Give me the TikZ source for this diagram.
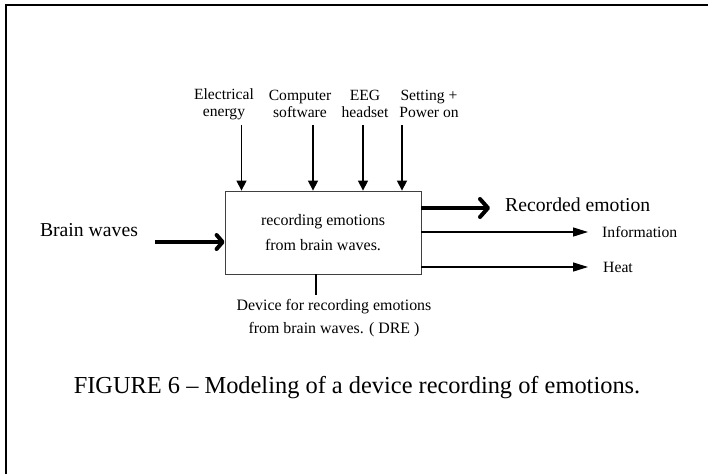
\documentclass[tikz,border=0pt]{standalone}
\usepackage{fontspec}
\setmainfont{Liberation Serif}
\usetikzlibrary{arrows.meta, positioning}

\begin{document}
\begin{tikzpicture}[x=1pt, y=-1pt,
   process/.style={draw=black!75, line width=0.8pt, minimum width=196pt, minimum height=83pt,
                   align=center, font=\fontsize{16}{25}\selectfont},
   ctrl/.style={align=center, font=\fontsize{15.6}{17}\selectfont, inner sep=0pt},
   flow/.style={line width=1.3pt, -{Triangle[length=10pt, width=10pt]}},
   outflow/.style={line width=1.3pt, -{Triangle[length=15pt, width=9pt]}},
   bigflow/.style={line width=4pt, -{Straight Barb[length=6pt, width=14pt, line cap=round, line join=round]}}]
   \useasboundingbox (0,0) rectangle (708,474);
   \draw[line width=2pt] (5.5,474) -- (5.5,5) -- (708,5);

   \node[process] (box) at (323,232.5) {recording emotions\\from brain waves.};

   % controls
   \node[ctrl] (elec) at (224,104) {Electrical\\energy};
   \node[ctrl] (soft) at (300,104) {Computer\\software};
   \node[ctrl] (eeg)  at (365,104) {EEG\\headset};
   \node[ctrl] (set)  at (429,104) {Setting +\\Power on};
   \coordinate (c1) at (241.5,125);
   \coordinate (c2) at (313,125);
   \coordinate (c3) at (363,125);
   \coordinate (c4) at (402,125);
   \draw[flow] (c1) -- (c1 |- box.north);
   \draw[flow] (c2) -- (c2 |- box.north);
   \draw[flow] (c3) -- (c3 |- box.north);
   \draw[flow] (c4) -- (c4 |- box.north);

   % input
   \node[font=\fontsize{19.7}{22}\selectfont] (brain) at (89,230) {Brain waves};
   \coordinate (bw) at (155,242);
   \draw[bigflow] (bw) -- (box.west |- bw);

   % outputs
   \node[font=\fontsize{19.7}{22}\selectfont, anchor=west, inner sep=0pt] (rec) at (505,205) {Recorded emotion};
   \coordinate (re) at (420,208);
   \draw[line width=4pt, -{Straight Barb[length=8pt, width=18pt, line cap=round, line join=round]}]
      (box.east |- re) -- (490,208);
   \node[font=\fontsize{15.7}{17}\selectfont, anchor=west, inner sep=0pt] (inf) at (602,232) {Information};
   \node[font=\fontsize{15.7}{17}\selectfont, anchor=west, inner sep=0pt] (heat) at (603,267) {Heat};
   \draw[outflow, shorten >=14pt] (box.east |- inf.west) -- (inf.west);
   \draw[outflow, shorten >=15pt] (box.east |- heat.west) -- (heat.west);

   % mechanism
   \node[align=center, font=\fontsize{15.9}{23}\selectfont] (dre) at (334,318.5)
      {Device for recording emotions\\from brain waves. ( DRE )};
   \draw[line width=1.3pt] (box.south -| 316,0) -- (316,295);

   \node[font=\fontsize{24.4}{28}\selectfont] (cap) at (357,388)
      {FIGURE 6 -- Modeling of a device recording of emotions.};
\end{tikzpicture}
\end{document}
